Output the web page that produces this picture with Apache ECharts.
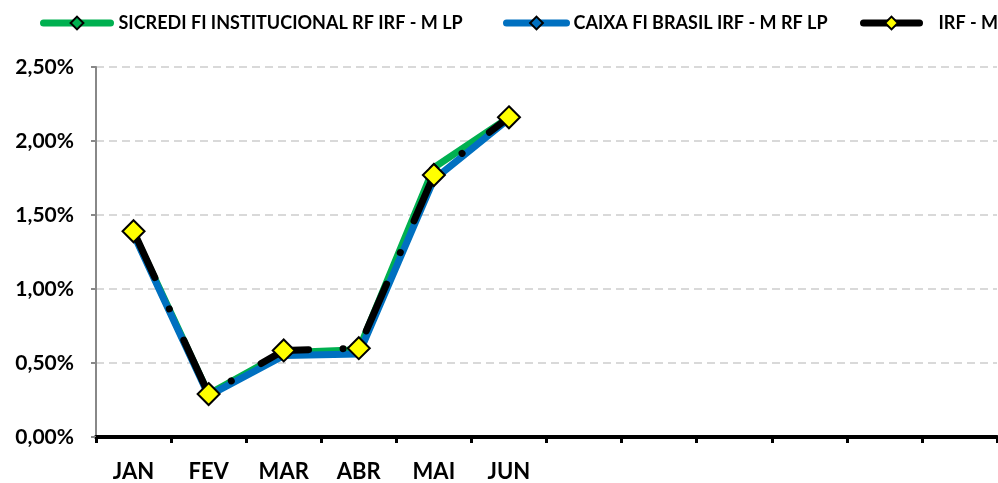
<!DOCTYPE html>
<html><head><meta charset="utf-8">
<script src="https://cdn.jsdelivr.net/npm/echarts@6/dist/echarts.min.js"></script>
<style>html,body{margin:0;padding:0;background:#fff}#c{width:998px;height:483px}</style>
</head><body><div id="c"></div>
<script>
const categories = ['JAN','FEV','MAR','ABR','MAI','JUN','','','','','',''];
const seriesNames = ['SICREDI FI INSTITUCIONAL RF IRF - M LP','CAIXA FI BRASIL IRF - M RF LP','IRF - M'];
const sicredi = [1.38, 0.29, 0.57, 0.59, 1.82, 2.16];
const caixa   = [1.37, 0.28, 0.55, 0.56, 1.74, 2.15];
const irfm    = [1.39, 0.29, 0.585, 0.60, 1.77, 2.16];
const yTicks = {min: 0, max: 2.5, interval: 0.5};

const font = 'Lato';
const chart = echarts.init(document.getElementById('c'));
const legendText = pad => ({fontFamily: font, fontWeight: 'bold', fontSize: 18, color: '#000', padding: [0, 0, 0, pad]});
const legendLine = c => ({width: 7, cap: 'round', type: 'solid', color: c});
chart.setOption({
  animation: false,
  legend: [
    {data: [seriesNames[0]], left: 40, top: 14, padding: 0, itemWidth: 67, itemHeight: 16, textStyle: legendText(3),
      lineStyle: legendLine('#00B050')},
    {data: [seriesNames[1]], left: 503, top: 14, padding: 0, itemWidth: 60, itemHeight: 16, textStyle: legendText(2),
      lineStyle: legendLine('#0070C0')},
    {data: [seriesNames[2]], left: 860, top: 14, padding: 0, itemWidth: 56, itemHeight: 16, textStyle: legendText(14),
      lineStyle: legendLine('#000')}
  ],
  grid: {left: 96, right: 1, top: 67, bottom: 46, containLabel: false},
  xAxis: {
    type: 'category', data: categories, boundaryGap: true,
    axisLine: {lineStyle: {color: '#000', width: 4}},
    axisTick: {show: true, length: 6, lineStyle: {color: '#000', width: 3}},
    axisLabel: {interval: 0, margin: 24, fontFamily: font, fontWeight: 'bold', fontSize: 22, color: '#000'},
    splitLine: {show: false}
  },
  yAxis: {
    type: 'value', min: yTicks.min, max: yTicks.max, interval: yTicks.interval,
    axisLine: {show: true, lineStyle: {color: '#888', width: 2}},
    axisTick: {show: true, length: 5, lineStyle: {color: '#888', width: 2}},
    axisLabel: {margin: 22, fontFamily: font, fontWeight: 'bold', fontSize: 21, color: '#000',
      formatter: v => v.toFixed(2).replace('.', ',') + '%'},
    splitLine: {show: true, lineStyle: {color: '#d9d9d9', width: 2, type: [8, 5]}}
  },
  series: [
    {name: seriesNames[0], type: 'line', data: sicredi, symbol: 'diamond', symbolSize: 8,
      lineStyle: {color: '#00B050', width: 7, cap: 'round', join: 'round'},
      itemStyle: {color: '#00B050', borderColor: '#000', borderWidth: 1.5}},
    {name: seriesNames[1], type: 'line', data: caixa, symbol: 'diamond', symbolSize: 8,
      lineStyle: {color: '#0070C0', width: 7, cap: 'round', join: 'round'},
      itemStyle: {color: '#0070C0', borderColor: '#000', borderWidth: 1.5}},
    {name: seriesNames[2], type: 'line', data: irfm, symbol: 'diamond', symbolSize: 22,
      lineStyle: {color: '#000', width: 7, cap: 'round', join: 'round', type: [51, 34.5, 0.01, 34.5]},
      itemStyle: {color: '#FFFF00', borderColor: '#000', borderWidth: 2}}
  ]
});
</script></body></html>
